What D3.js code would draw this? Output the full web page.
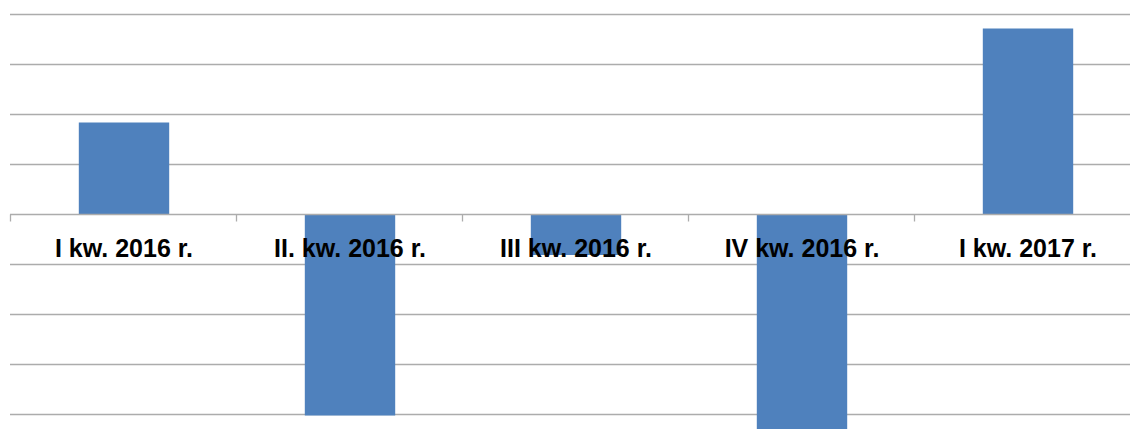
<!DOCTYPE html>
<html>
<head>
<meta charset="utf-8">
<script src="https://cdn.jsdelivr.net/npm/d3@7"></script>
<style>
html,body{margin:0;padding:0;background:#fff;overflow:hidden;}
svg{display:block;}
</style>
</head>
<body>
<svg id="chart" width="1130" height="429"></svg>
<script>
const categories = ["I kw. 2016 r.", "II. kw. 2016 r.", "III kw. 2016 r.", "IV kw. 2016 r.", "I kw. 2017 r."];
const values = [1.83, -4.03, -0.82, -4.6, 3.71];
const yTicks = [-4, -3, -2, -1, 0, 1, 2, 3, 4];

const svg = d3.select("#chart");
const plotLeft = 11, plotRight = 1141, plotTop = 14, plotBottom = 414;

const x = d3.scaleBand().domain(categories).range([plotLeft, plotRight]).padding(0);
const y = d3.scaleLinear().domain([-4, 4]).range([plotBottom, plotTop]);

// gridlines
svg.append("g").selectAll("line").data(yTicks.filter(d => d !== 0)).join("line")
  .attr("x1", plotLeft - 1).attr("x2", 1130)
  .attr("y1", d => Math.round(y(d)) + 0.5).attr("y2", d => Math.round(y(d)) + 0.5)
  .attr("stroke", "#acacac").attr("stroke-width", 1.3);

// bars
const bw = x.bandwidth() * 0.4;
svg.append("g").selectAll("rect").data(values).join("rect")
  .attr("x", (d, i) => x(categories[i]) + (x.bandwidth() - bw) / 2)
  .attr("width", bw)
  .attr("y", d => y(Math.max(0, d)))
  .attr("height", d => Math.abs(y(d) - y(0)))
  .attr("fill", "#4f81bd");

// zero axis line
const y0 = Math.round(y(0)) + 0.5;
svg.append("line").attr("x1", plotLeft - 1).attr("x2", 1130).attr("y1", y0).attr("y2", y0)
  .attr("stroke", "#acacac").attr("stroke-width", 1.3);

// boundary tick marks
const bounds = categories.map(c => x(c)).concat([plotRight]);
svg.append("g").selectAll("line").data(bounds).join("line")
  .attr("x1", d => Math.round(d) - 0.5).attr("x2", d => Math.round(d) - 0.5)
  .attr("y1", y0).attr("y2", y0 + 7)
  .attr("stroke", "#acacac").attr("stroke-width", 1.3);

// category labels via axis
const axis = d3.axisBottom(x).tickSize(0).tickPadding(0);
const g = svg.append("g").attr("transform", `translate(0,${y(0)})`).call(axis);
g.select(".domain").remove();
g.selectAll("text")
  .attr("y", 43).attr("dy", 0)
  .attr("font-family", "'Liberation Sans', Arial, sans-serif")
  .attr("font-weight", "bold")
  .attr("font-size", 25)
  .attr("fill", "#000");
</script>
</body>
</html>
